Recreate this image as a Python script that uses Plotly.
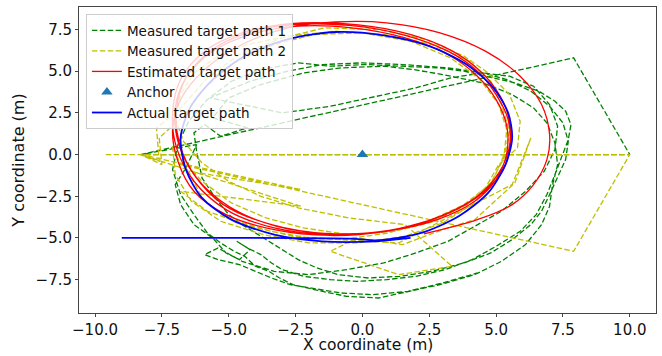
import plotly.graph_objects as go

# ---------------- data ----------------
# Measured target path 1 (green, noisy)
meas1_x = [-8.3, 7.9, 10.0, -8.3,
           -6.2, -6.6, -7.0, -6.8, -6.3, -5.6, -5.1, -4.6, -4.2, -4.7, -4.3, -3.8, -3.4, -3.0, -2.2, -1.2, -0.2, 0.9, 2.0, 3.1, 4.1, 5.0,
           5.9, 6.5, 6.9, 7.2, 7.5, 7.7, 7.8, 7.6, 7.2, 6.6, 5.7, 4.6, 3.8, 2.8, 1.35, 0.1, -1.2, -2.4, -3.8, -4.9, -5.8, -6.5, -6.9, -7.1, -6.8,
           -6.3, -5.8, -5.3, -4.8, -4.4, -4.0, -3.5, -3.1, -2.6, -1.8, -0.6, 0.6, 1.8, 2.9, 4.2, 5.2, 6.1, 6.7, 7.0, 7.1, 7.3, 7.2, 6.9, 6.4,
           5.6, 4.5, 3.0, 1.9, 0.8, -0.8, -2.2, -3.8, -5.0, -5.6, -4.3, -5.3, -5.9, -6.3, -6.2, -6.0, -5.5, -5.0, -4.5, -4.1, -3.7, -3.3,
           -2.9, -2.4, -1.7, -0.9, 0.2, 1.4, 2.6, 3.8, 4.8, 5.6, 6.3, 6.7, 7.0, 7.3, 7.6, 7.7, 7.5, 7.0, 6.3, 5.4, 4.5, 3.2, 1.5, 0.0,
           -1.5, -2.8, -4.2, -5.7, -3.0, -1.2, 0.6, 2.0, 3.3, 4.5, 5.5, 6.4, 7.0, 7.3, 7.2, 6.8, 6.1, 5.2, 4.2, 3.2, 2.0, 0.8, -0.6,
           -2.0, -3.3, -4.5, -5.4, -5.9, -5.4, -4.6, -4.0, -3.4, -2.7, -1.9, -0.8, 0.4, 1.7, 3.0, 4.3]
meas1_y = [0.0, 5.8, 0.0, 0.0,
           0.6, -0.8, -1.8, -3.0, -4.2, -5.0, -5.9, -6.3, -5.7, -5.2, -5.6, -6.0, -6.5, -6.9, -7.3, -7.5, -7.6, -7.5, -7.3, -6.9, -6.3, -5.5,
           -4.6, -3.6, -2.4, -1.2, 0.0, 0.9, 1.8, 2.6, 3.2, 3.8, 4.3, 4.7, 5.0, 5.2, 5.3, 5.4, 5.3, 5.5, 5.1, 4.4, 3.3, 2.0, 0.6, -0.9, -2.4,
           -3.6, -4.7, -5.3, -5.8, -6.1, -6.7, -7.0, -7.4, -7.8, -8.1, -8.5, -8.6, -8.2, -7.8, -7.2, -6.4, -5.4, -4.2, -3.1, -1.9, -0.6, 0.7, 1.9, 2.8,
           3.6, 4.3, 4.8, 5.1, 5.3, 5.2, 4.9, 4.2, 3.4, 2.2, 1.6, 1.1, 1.8, 1.3, 0.2, -1.4, -2.6, -3.6, -4.2, -4.6, -5.0, -5.4,
           -5.8, -6.3, -6.8, -7.2, -7.4, -7.3, -7.0, -6.5, -5.9, -5.1, -4.2, -3.4, -2.4, -1.4, -0.3, 0.8, 1.9, 2.9, 3.8, 4.5, 4.9, 5.2, 5.4, 5.5,
           5.4, 5.0, 4.4, 3.4, 2.5, 2.9, 3.5, 4.0, 4.6, 4.9, 4.7, 4.1, 3.0, 1.7, 0.3, -1.0, -2.2, -3.4, -4.3, -5.2, -5.9, -6.5, -6.9,
           -7.2, -7.0, -6.4, -5.6, -6.0, -6.3, -6.6, -7.0, -7.4, -7.8, -8.0, -8.3, -8.4, -8.2, -7.7, -7.1]

# Measured target path 2 (yellow, noisy)
meas2_x = [-9.6, 10.0, 7.9, -6.8,
           -7.1, -7.0, -6.4, -5.3, -3.7, -2.0, -0.2, 1.6, 3.0, 4.2, 4.9, 5.3, 5.4, 5.1, 4.4, 3.3, 1.8, 0.0, -1.8, -3.3, -4.8, -5.9, -6.7,
           -7.6, -7.5, -8.3, -2.3, -6.8, -5.8, -4.2, -2.6, -0.8, 1.0, 2.6, 3.8, 4.6, 5.1, 5.8, 5.9, 5.5, 4.7, 3.8, 2.4, 0.6, -1.4, -3.0,
           -4.6, -5.8, -6.9, -7.7, -7.6, -8.3, -2.3, -6.5, -6.0, -5.1, -3.4, -2.0, 1.35, 5.6, 6.3, 5.7, 4.2, 3.0, 1.5, -0.2, -1.2, 1.35, 3.35,
           1.6, -0.5, -2.4, -3.8, -5.0, -6.0, -6.7, -7.0, -6.8, -6.3, -5.4, -4.3, -2.8, -1.0, 0.8, 2.6, 4.0, 4.8, 5.2, 5.5, 5.3, 4.8, 3.9, 2.7, 1.2, -0.5, -2.2,
           -3.6, -4.9, -6.0, -6.8]
meas2_y = [0.0, 0.0, -5.8, -0.6,
           0.5, -1.2, -2.8, -4.0, -4.8, -5.3, -5.3, -4.9, -4.1, -2.9, -1.5, 0.0, 1.5, 3.0, 4.5, 5.8, 6.8, 7.3, 7.2, 6.6, 5.5, 4.0, 2.3,
           1.0, -0.6, 0.0, -3.1, -2.2, -3.4, -4.3, -4.9, -5.1, -4.7, -3.9, -3.0, -2.0, -0.6, 0.4, 2.0, 3.6, 4.9, 5.9, 6.9, 7.5, 7.6, 7.0,
           6.0, 4.6, 2.6, 1.6, -0.4, 0.0, -2.1, -1.0, -2.6, -3.8, -4.6, -5.0, -5.3, -1.8, 1.0, -1.7, -3.9, -4.5, -5.4, -5.0, -5.8, -7.2, -6.7,
           -4.2, -3.8, -3.2, -2.5, -1.6, -0.5, 0.8, 2.2, 3.6, 4.9, 5.9, 6.6, 7.1, 7.4, 7.2, 6.6, 5.6, 4.4, 3.0, 1.4, -0.2, -1.7, -3.0, -4.0, -4.6, -4.8, -4.4,
           -3.8, -2.9, -1.6, -0.2]

# Estimated target path (red)
est_x = [2.3, 4.3, 5.6, 6.4, 6.9, 7.0, 6.7, 5.9, 4.6, 2.9, 0.9, -1.0, -2.8, -4.5, -5.9, -6.8, -7.1, -6.9, -6.3, -5.1, -3.3, -1.2,
         0.9, 2.8, 4.2, 5.0, 5.4, 5.4, 5.0, 4.3, 3.2, 1.6, -0.4, -2.4, -4.2, -5.6, -6.6, -7.0, -6.9, -6.3, -5.2, -3.4, -1.2,
         1.0, 2.9, 4.3, 5.1, 5.5, 5.45, 5.0, 4.3, 3.2, 1.5, -0.5, -2.5, -4.3, -5.7, -6.6, -6.95, -6.85, -6.2, -5.0, -3.2, -1.0,
         1.2, 3.1, 4.5, 5.3, 5.55, 5.45, 5.0, 4.2, 3.0, 1.3, -0.7, -2.7, -4.5, -5.9, -6.8, -7.1, -6.95, -6.3, -5.1, -3.3, -1.1, 1.0, 2.6]
est_y = [-4.75, -3.9, -3.0, -1.8, -0.3, 1.2, 3.0, 4.7, 6.2, 7.3, 7.9, 7.95, 7.6, 6.6, 5.1, 3.3, 1.5, -0.4, -2.2, -3.6, -4.5, -4.85,
         -4.6, -3.9, -2.8, -1.5, 0.1, 1.7, 3.3, 4.7, 6.0, 7.0, 7.6, 7.7, 7.2, 6.2, 4.6, 2.8, 0.8, -1.2, -3.0, -4.2, -4.75,
         -4.55, -3.7, -2.5, -1.1, 0.5, 2.1, 3.6, 5.0, 6.2, 7.2, 7.75, 7.8, 7.3, 6.2, 4.6, 2.7, 0.7, -1.4, -3.1, -4.3, -4.75,
         -4.5, -3.6, -2.3, -0.8, 0.8, 2.4, 3.9, 5.3, 6.5, 7.4, 7.85, 7.85, 7.3, 6.2, 4.5, 2.5, 0.4, -1.6, -3.3, -4.4, -4.8, -4.55, -3.9]

# Anchor
anchor_x = [0.0]
anchor_y = [0.0]

# Actual target path (blue)
act_x = [-9.0, -0.3, 0.5, 2.2, 3.6, 4.7, 5.35, 5.6, 5.45, 4.9, 3.9, 2.5, 0.8, -1.0, -2.7, -4.3, -5.6, -6.45, -6.8, -6.6, -6.0,
         -4.9, -3.3, -1.5, 0.5, 1.8]
act_y = [-5.0, -5.05, -5.15, -4.7, -3.7, -2.3, -0.6, 1.0, 2.5, 4.0, 5.4, 6.5, 7.15, 7.35, 6.95, 6.0, 4.5, 2.8, 1.0, -0.9, -2.6,
         -3.9, -4.8, -5.2, -5.2, -5.0]

x_ticks = [-10.0, -7.5, -5.0, -2.5, 0.0, 2.5, 5.0, 7.5, 10.0]
y_ticks = [-7.5, -5.0, -2.5, 0.0, 2.5, 5.0, 7.5]

# ---------------- figure ----------------
DASH = "5.5px,2.4px"
fig = go.Figure()
fig.add_trace(go.Scatter(x=meas1_x, y=meas1_y, mode="lines", name="Measured target path 1",
                         line=dict(color="#008000", width=1.3, dash=DASH)))
fig.add_trace(go.Scatter(x=meas2_x, y=meas2_y, mode="lines", name="Measured target path 2",
                         line=dict(color="#bfbf00", width=1.3, dash=DASH)))
fig.add_trace(go.Scatter(x=est_x, y=est_y, mode="lines", name="Estimated target path",
                         line=dict(color="#ff0000", width=1.3, shape="spline", smoothing=1.0)))
fig.add_trace(go.Scatter(x=anchor_x, y=anchor_y, mode="markers", name="Anchor",
                         marker=dict(symbol="triangle-up", color="#1f77b4", size=10)))
fig.add_trace(go.Scatter(x=act_x, y=act_y, mode="lines", name="Actual target path",
                         line=dict(color="#0000ff", width=1.8, shape="spline", smoothing=0.8)))

axis_common = dict(showgrid=False, zeroline=False, showline=True, mirror=True,
                   linecolor="#444", linewidth=1, ticks="outside", ticklen=3,
                   tickcolor="#444", tickfont=dict(size=15, color="#111"))
fig.update_xaxes(range=[-10.6, 10.98], tickvals=x_ticks,
                 ticktext=[f"{v:.1f}".replace("-", "\u2212") for v in x_ticks],
                 **axis_common)
fig.update_yaxes(range=[-9.5, 8.85], tickvals=y_ticks,
                 ticktext=[f"{v:.1f}".replace("-", "\u2212") for v in y_ticks],
                 title=dict(text="Y coordinate (m)", font=dict(size=16, color="#111"), standoff=6),
                 **axis_common)
fig.add_annotation(text="X coordinate (m)", xref="paper", yref="paper", x=0.5, y=-0.137,
                   xanchor="center", yanchor="bottom", showarrow=False, borderpad=0,
                   font=dict(size=15.5, color="#111"))
fig.update_layout(
    width=662, height=356,
    margin=dict(l=79, r=6, t=7, b=43),
    plot_bgcolor="white", paper_bgcolor="white",
    font=dict(family="DejaVu Sans", color="#111"),
    legend=dict(x=0.012, y=0.977, xanchor="left", yanchor="top",
                bgcolor="rgba(255,255,255,0.8)", bordercolor="#cccccc", borderwidth=1,
                font=dict(size=13.5, color="#111"), itemwidth=30, tracegroupgap=0),
)
fig.write_html("out.html", config={"displayModeBar": False},
               post_script="document.body.style.margin='0';")
